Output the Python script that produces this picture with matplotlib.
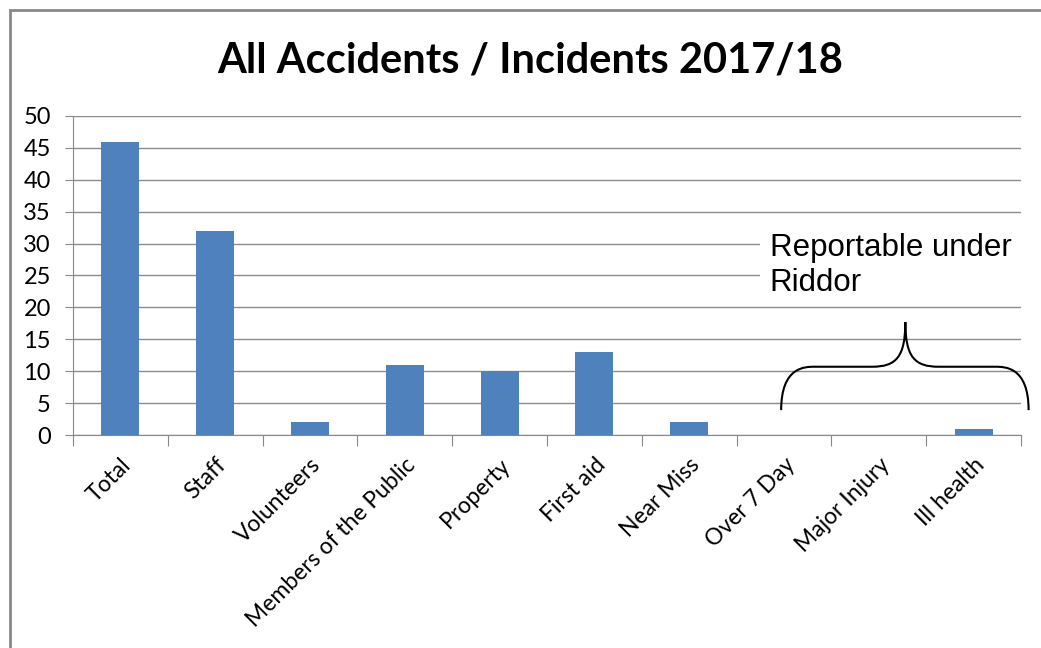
import matplotlib.pyplot as plt
from matplotlib.patches import Rectangle, PathPatch
from matplotlib.path import Path

categories = ['Total', 'Staff', 'Volunteers', 'Members of the Public', 'Property',
              'First aid', 'Near Miss', 'Over 7 Day', 'Major Injury', 'Ill health']
counts = [46, 32, 2, 11, 10, 13, 2, 0, 0, 1]
yticks = [0, 5, 10, 15, 20, 25, 30, 35, 40, 45, 50]

plt.rcParams['font.family'] = ['Lato', 'DejaVu Sans']

fig = plt.figure(figsize=(10.41, 6.48), dpi=100)
ax = fig.add_axes([0.0701, 0.3287, 0.9107, 0.4923])

x = list(range(len(categories)))
ax.bar(x, counts, width=0.4, color='#4F81BD', zorder=3)

ax.set_xlim(-0.5, len(categories) - 0.5)
ax.set_ylim(0, 50)
ax.set_yticks(yticks)
ax.tick_params(axis='y', labelsize=17, length=6, color='#888888', pad=10)
ax.yaxis.grid(True, color='#8c8c8c', linewidth=1, zorder=0)

# category boundaries as ticks, labels centred under bars
ax.set_xticks([i - 0.5 for i in range(len(categories) + 1)])
ax.set_xticklabels([])
ax.set_xticks(x, minor=True)
ax.set_xticklabels(categories, minor=True, rotation=45, ha='right',
                   rotation_mode='anchor', fontsize=16.5)
ax.tick_params(axis='x', which='major', length=8, color='#888888')
ax.tick_params(axis='x', which='minor', length=0, pad=14)

for s in ['top', 'right']:
    ax.spines[s].set_visible(False)
ax.spines['left'].set_color('#888888')
ax.spines['bottom'].set_color('#888888')

fig.text(0.509, 0.907, 'All Accidents / Incidents 2017/18', ha='center', va='center',
         fontsize=30, fontweight='bold')

# brace over the Riddor categories
x0, x1, xm = 6.97, 9.58, 8.28
yb, yh, yp = 3.9, 10.7, 17.7
verts = [(x0, yb), (x0, yh), (x0 + 0.25, yh), (x0 + 0.35, yh),
         (xm - 0.35, yh),
         (xm - 0.1, yh), (xm, yh + 1.5), (xm, yp),
         (xm, yh + 1.5), (xm + 0.1, yh), (xm + 0.35, yh),
         (x1 - 0.35, yh),
         (x1 - 0.25, yh), (x1, yh), (x1, yb)]
codes = [Path.MOVETO, Path.CURVE4, Path.CURVE4, Path.CURVE4,
         Path.LINETO,
         Path.CURVE4, Path.CURVE4, Path.CURVE4,
         Path.CURVE4, Path.CURVE4, Path.CURVE4,
         Path.LINETO,
         Path.CURVE4, Path.CURVE4, Path.CURVE4]
ax.add_patch(PathPatch(Path(verts, codes), facecolor='none', edgecolor='black',
                       linewidth=1.5, clip_on=False, zorder=4))

# white text box hiding the grid behind the label
ax.add_patch(Rectangle((6.75, 21.5), 2.9, 11.0, facecolor='white', edgecolor='none',
                       clip_on=False, zorder=2))
ax.text(6.85, 31.6, 'Reportable under\nRiddor', fontsize=22.5, family='Liberation Sans',
        va='top', ha='left', linespacing=1.2, zorder=5)

fig.patches.append(Rectangle((0.0096, -0.05), 1.2, 1.0346, transform=fig.transFigure,
                             fill=False, edgecolor='#888888', linewidth=2))

fig.savefig('out.png', dpi=100)
